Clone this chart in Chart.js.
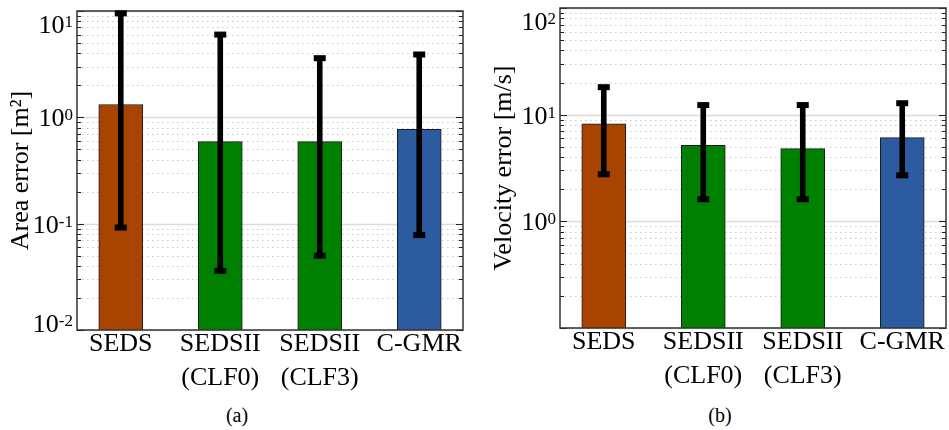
<!DOCTYPE html>
<html>
<head>
<meta charset="utf-8">
<script src="https://cdn.jsdelivr.net/npm/chart.js@4.4.1/dist/chart.umd.min.js"></script>
<style>
  html, body { margin: 0; padding: 0; background: #fff; }
  #wrap { position: relative; width: 949px; height: 430px; overflow: hidden; }
  canvas { position: absolute; top: 0; }
  .cap { position: absolute; top: 403px; width: 60px; text-align: center;
         font: 20px "Liberation Serif", serif; line-height: 24px; color: #000; }
</style>
</head>
<body>
<div id="wrap">
  <canvas id="areaChart" width="474" height="400" style="left:0"></canvas>
  <canvas id="velChart" width="471" height="400" style="left:478px"></canvas>
  <div class="cap" style="left:207px">(a)</div>
  <div class="cap" style="left:690px">(b)</div>
</div>
<script>
// Categories and bar colours
const methods = [["SEDS"], ["SEDSII", "(CLF0)"], ["SEDSII", "(CLF3)"], ["C-GMR"]];
const xPos = [0, 1, 2, 3];
const barColors = ["#a84300", "#008000", "#008000", "#2c5ba0"];

// (a) area error, m^2
const areaMean = [1.32, 0.59, 0.59, 0.77];
const areaLow = [0.092, 0.036, 0.050, 0.078];
const areaHigh = [9.5, 6.0, 3.6, 3.9];
const areaTickExps = [-2, -1, 0, 1];

// (b) velocity error, m/s
const velMean = [8.2, 5.15, 4.8, 6.1];
const velLow = [2.76, 1.61, 1.61, 2.7];
const velHigh = [18.1, 12.3, 12.3, 12.8];
const velTickExps = [0, 1, 2];

const serif = "Liberation Serif";

// Draws log grid, inward ticks, frame, error bars and 10^n tick labels
function decorPlugin(tickExps, errLow, errHigh) {
    return {
        id: "decor",
        beforeDatasetsDraw(chart) {
            const ctx = chart.ctx;
            const a = chart.chartArea;
            const y = chart.scales.y;
            ctx.save();
            const e0 = Math.floor(Math.log10(y.min));
            const e1 = Math.ceil(Math.log10(y.max));
            for (let e = e0; e <= e1; e++) {
                for (let k = 1; k <= 9; k++) {
                    const v = k * Math.pow(10, e);
                    if (v < y.min * 0.999 || v > y.max * 1.001) continue;
                    const py = Math.round(y.getPixelForValue(v)) + 0.5;
                    const major = k === 1;
                    // grid line
                    ctx.beginPath();
                    if (major) {
                        ctx.strokeStyle = "#dcdcdc";
                        ctx.lineWidth = 1.5;
                        ctx.setLineDash([]);
                    } else {
                        ctx.strokeStyle = "#c8c8c8";
                        ctx.lineWidth = 1;
                        ctx.setLineDash([1.5, 3.5]);
                    }
                    ctx.moveTo(a.left, py);
                    ctx.lineTo(a.right, py);
                    ctx.stroke();
                    // inward ticks on both sides
                    const len = major ? 7 : 4;
                    ctx.setLineDash([]);
                    ctx.strokeStyle = "#222";
                    ctx.lineWidth = 1;
                    ctx.beginPath();
                    ctx.moveTo(a.left, py);
                    ctx.lineTo(a.left + len, py);
                    ctx.moveTo(a.right, py);
                    ctx.lineTo(a.right - len, py);
                    ctx.stroke();
                }
            }
            ctx.restore();
        },
        afterDatasetsDraw(chart) {
            const ctx = chart.ctx;
            const a = chart.chartArea;
            const y = chart.scales.y;
            ctx.save();
            // frame
            ctx.strokeStyle = "#333";
            ctx.lineWidth = 1.5;
            ctx.strokeRect(a.left, a.top, a.right - a.left, a.bottom - a.top);
            // error bars
            ctx.fillStyle = "#000";
            chart.getDatasetMeta(0).data.forEach(function(bar, i) {
                const yl = y.getPixelForValue(errLow[i]);
                const yh = y.getPixelForValue(errHigh[i]);
                ctx.fillRect(bar.x - 2.8, yh, 5.6, yl - yh);
                ctx.fillRect(bar.x - 6, yh - 3, 12, 6);
                ctx.fillRect(bar.x - 6, yl - 3, 12, 6);
            });
            // tick labels with superscript exponents
            ctx.fillStyle = "#000";
            ctx.textAlign = "left";
            ctx.textBaseline = "alphabetic";
            tickExps.forEach(function(e) {
                let py = y.getPixelForValue(Math.pow(10, e));
                py = Math.min(Math.max(py, a.top + 12.5), a.bottom - 7);
                const base = "10";
                const sup = e < 0 ? "-" + (-e) : String(e);
                ctx.font = "26px '" + serif + "'";
                const wb = ctx.measureText(base).width;
                ctx.font = "17px '" + serif + "'";
                const ws = ctx.measureText(sup).width;
                const right = a.left - 4;
                ctx.font = "26px '" + serif + "'";
                ctx.fillText(base, right - ws - wb, py + 9);
                ctx.font = "17px '" + serif + "'";
                ctx.fillText(sup, right - ws, py + 3);
            });
            ctx.restore();
        }
    };
}

function makeChart(canvasId, mean, low, high, tickExps, yMin, yMax, title, pad, yWidth, xHeight, titlePad) {
    const canvas = document.getElementById(canvasId);
    return new Chart(canvas, {
        type: "bar",
        data: {
            datasets: [{
                data: xPos.map(function(x, i) { return {x: x, y: mean[i]}; }),
                backgroundColor: barColors,
                borderColor: "#1a1a1a",
                borderWidth: 1,
                barThickness: 44
            }]
        },
        options: {
            responsive: false,
            animation: false,
            devicePixelRatio: 1,
            layout: {padding: pad},
            plugins: {legend: {display: false}, tooltip: {enabled: false}},
            scales: {
                x: {
                    type: "linear",
                    offset: false,
                    min: -0.44,
                    max: 3.44,
                    grid: {display: false, drawTicks: false},
                    border: {display: false},
                    afterBuildTicks: function(s) { s.ticks = xPos.map(function(v) { return {value: v}; }); },
                    afterFit: function(s) { s.height = xHeight; },
                    ticks: {
                        callback: function(v, i) { return methods[i]; },
                        font: {family: serif, size: 26, lineHeight: 1.3},
                        color: "#000",
                        padding: -3,
                        maxRotation: 0,
                        autoSkip: false
                    }
                },
                y: {
                    type: "logarithmic",
                    min: yMin,
                    max: yMax,
                    grid: {display: false, drawTicks: false},
                    border: {display: false},
                    ticks: {display: false},
                    afterFit: function(s) { s.width = yWidth; },
                    title: {
                        display: true,
                        text: title,
                        font: {family: serif, size: 26},
                        color: "#000",
                        padding: {top: titlePad, bottom: 0}
                    }
                }
            }
        },
        plugins: [decorPlugin(tickExps, low, high)]
    });
}

makeChart("areaChart", areaMean, areaLow, areaHigh, areaTickExps, 0.01, 10,
    "Area error [m²]", {top: 11, right: 11, left: 0, bottom: 0}, 77, 70, 6);
makeChart("velChart", velMean, velLow, velHigh, velTickExps, 0.1, 100,
    "Velocity error [m/s]", {top: 8, right: 3, left: 0, bottom: 0}, 82, 72, 11);
</script>
</body>
</html>
